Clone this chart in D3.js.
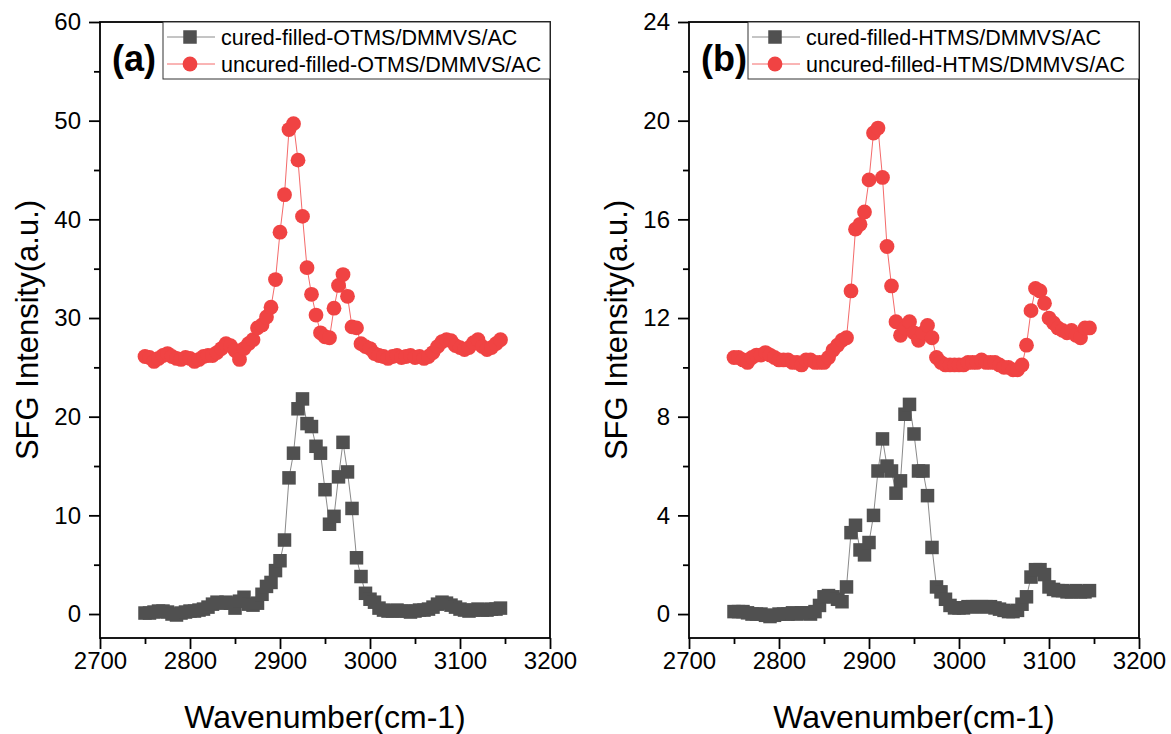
<!DOCTYPE html>
<html>
<head>
<meta charset="utf-8">
<script src="https://cdn.jsdelivr.net/npm/d3@7"></script>
<style>
  body { margin: 0; background: #fff; }
  svg { display: block; }
</style>
</head>
<body>
<svg id="chart" width="1171" height="734"></svg>
<script>
(function () {
'use strict';

// wavenumbers shared by every series (cm-1)
var wavenumbers = [
    2750, 2755, 2760, 2765, 2770, 2775, 2780, 2785, 2790, 2795,
    2800, 2805, 2810, 2815, 2820, 2825, 2830, 2835, 2840, 2845,
    2850, 2855, 2860, 2865, 2870, 2875, 2880, 2885, 2890, 2895,
    2900, 2905, 2910, 2915, 2920, 2925, 2930, 2935, 2940, 2945,
    2950, 2955, 2960, 2965, 2970, 2975, 2980, 2985, 2990, 2995,
    3000, 3005, 3010, 3015, 3020, 3025, 3030, 3035, 3040, 3045,
    3050, 3055, 3060, 3065, 3070, 3075, 3080, 3085, 3090, 3095,
    3100, 3105, 3110, 3115, 3120, 3125, 3130, 3135, 3140, 3145
];

var curedOtms = [
    0.1, 0.1, 0.2, 0.3, 0.3, 0.2, 0.0, -0.1, 0.1, 0.2,
    0.3, 0.3, 0.4, 0.5, 0.7, 1.0, 1.2, 1.1, 1.2, 1.1,
    0.6, 1.3, 1.7, 1.0, 0.9, 1.1, 2.0, 2.8, 3.2, 4.4,
    5.4, 7.5, 13.8, 16.3, 20.8, 21.8, 19.3, 19.0, 17.0, 16.3,
    12.6, 9.1, 9.9, 13.9, 17.4, 14.4, 10.7, 5.7, 3.8, 2.1,
    1.5, 1.2, 0.6, 0.4, 0.3, 0.3, 0.4, 0.3, 0.3, 0.2,
    0.3, 0.4, 0.4, 0.5, 0.7, 1.0, 1.2, 1.1, 0.9, 0.7,
    0.5, 0.4, 0.3, 0.4, 0.5, 0.4, 0.4, 0.5, 0.5, 0.6
];

var uncuredOtms = [
    26.1, 26.0, 25.6, 25.9, 26.2, 26.4, 26.1, 25.9, 25.8, 26.0,
    25.9, 25.6, 25.8, 26.1, 26.2, 26.2, 26.5, 26.9, 27.4, 27.2,
    26.7, 25.8, 26.9, 27.4, 27.8, 29.0, 29.3, 30.1, 31.1, 33.9,
    38.7, 42.5, 49.1, 49.7, 46.0, 40.3, 35.1, 32.4, 30.3, 28.5,
    28.1, 28.0, 31.0, 33.3, 34.4, 32.2, 29.1, 29.0, 27.4, 27.1,
    26.9, 26.4, 26.2, 26.1, 25.9, 26.1, 26.2, 26.0, 26.1, 26.2,
    26.0, 26.1, 25.9, 26.1, 26.5, 27.1, 27.6, 27.8, 27.7, 27.2,
    27.0, 26.8, 27.0, 27.5, 27.8, 27.1, 26.8, 27.0, 27.4, 27.8
];

var curedHtms = [
    0.1, 0.1, 0.1, 0.05, 0.0, 0.0, 0.0, -0.05, -0.1, -0.05,
    0.0, 0.0, 0.0, 0.05, 0.0, 0.05, 0.05, 0.0, 0.1, 0.35,
    0.7, 0.75, 0.7, 0.6, 0.5, 1.1, 3.3, 3.6, 2.6, 2.4,
    2.9, 4.0, 5.8, 7.1, 6.0, 5.8, 4.9, 5.4, 8.1, 8.5,
    7.3, 5.8, 5.8, 4.8, 2.7, 1.1, 0.9, 0.6, 0.35, 0.25,
    0.25, 0.25, 0.3, 0.3, 0.3, 0.3, 0.3, 0.3, 0.25, 0.2,
    0.15, 0.1, 0.1, 0.15, 0.4, 0.7, 1.5, 1.8, 1.8, 1.6,
    1.1, 1.0, 0.95, 0.95, 0.9, 0.9, 0.95, 0.9, 0.9, 0.95
];

var uncuredHtms = [
    10.4, 10.4, 10.3, 10.2, 10.4, 10.5, 10.5, 10.6, 10.5, 10.4,
    10.3, 10.3, 10.3, 10.2, 10.2, 10.1, 10.3, 10.3, 10.2, 10.2,
    10.2, 10.4, 10.7, 10.9, 11.1, 11.2, 13.1, 15.6, 15.8, 16.3,
    17.6, 19.5, 19.7, 17.7, 14.9, 13.3, 11.85, 11.3, 11.6, 11.85,
    11.4, 11.1, 11.4, 11.7, 11.2, 10.4, 10.2, 10.1, 10.1, 10.1,
    10.1, 10.1, 10.2, 10.2, 10.2, 10.3, 10.2, 10.2, 10.2, 10.1,
    10.0, 10.0, 9.9, 9.9, 10.1, 10.9, 12.3, 13.2, 13.1, 12.6,
    12.0, 11.8, 11.6, 11.5, 11.4, 11.5, 11.3, 11.2, 11.6, 11.6
];

var xTicks = [2700, 2800, 2900, 3000, 3100, 3200];
var xMinorTicks = [2750, 2850, 2950, 3050, 3150];
var yTicksA = [0, 10, 20, 30, 40, 50, 60];
var yMinorA = [5, 15, 25, 35, 45, 55];
var yTicksB = [0, 4, 8, 12, 16, 20, 24];
var yMinorB = [2, 6, 10, 14, 18, 22];
var namesA = ['cured-filled-OTMS/DMMVS/AC', 'uncured-filled-OTMS/DMMVS/AC'];
var namesB = ['cured-filled-HTMS/DMMVS/AC', 'uncured-filled-HTMS/DMMVS/AC'];

var FONT = '"Liberation Sans", Arial, Helvetica, sans-serif';
var GRAY = '#505050';
var GRAY_LINE = '#8a8a8a';
var RED = '#f04343';
var RED_LINE = '#f46a6a';
var TOP = 22;
var BOTTOM = 638;
var SQUARE = 13.5;
var RADIUS = 7.4;

var panels = [
    { left: 100, right: 550, yDomain: [-2.43, 60], yTicks: yTicksA, yMinor: yMinorA,
      tag: '(a)', names: namesA, cured: curedOtms, uncured: uncuredOtms, legendX: 163 },
    { left: 689, right: 1139, yDomain: [-0.97, 24], yTicks: yTicksB, yMinor: yMinorB,
      tag: '(b)', names: namesB, cured: curedHtms, uncured: uncuredHtms, legendX: 748 }
];

var svg = d3.select('#chart');

svg.append('rect')
    .attr('width', 1171)
    .attr('height', 734)
    .attr('fill', '#fff');

var drawMarker = function(g, kind, cx, cy) {
    if (kind === 'square') {
        g.append('rect')
            .attr('x', cx - SQUARE / 2)
            .attr('y', cy - SQUARE / 2)
            .attr('width', SQUARE)
            .attr('height', SQUARE)
            .attr('fill', GRAY);
    } else {
        g.append('circle')
            .attr('cx', cx)
            .attr('cy', cy)
            .attr('r', RADIUS)
            .attr('fill', RED);
    }
};

var drawPanel = function(p) {
    var x = d3.scaleLinear().domain([2700, 3200]).range([p.left, p.right]);
    var y = d3.scaleLinear().domain(p.yDomain).range([BOTTOM, TOP]);
    var g = svg.append('g');

    // series: line first, then markers
    var series = [
        { values: p.cured, kind: 'square', line: GRAY_LINE },
        { values: p.uncured, kind: 'circle', line: RED_LINE }
    ];

    var line = d3.line()
        .x(function(d, i) { return x(wavenumbers[i]); })
        .y(function(d) { return y(d); });

    series.forEach(function(s) {
        g.append('path')
            .datum(s.values)
            .attr('d', line)
            .attr('fill', 'none')
            .attr('stroke', s.line)
            .attr('stroke-width', 1);

        var mg = g.append('g');
        s.values.forEach(function(v, i) {
            drawMarker(mg, s.kind, x(wavenumbers[i]), y(v));
        });
    });

    // frame
    g.append('rect')
        .attr('x', p.left)
        .attr('y', TOP)
        .attr('width', p.right - p.left)
        .attr('height', BOTTOM - TOP)
        .attr('fill', 'none')
        .attr('stroke', '#000')
        .attr('stroke-width', 1.8);

    // x axis
    var xAxis = g.append('g')
        .attr('transform', 'translate(0,' + BOTTOM + ')')
        .call(d3.axisBottom(x).tickValues(xTicks).tickSize(11).tickPadding(3).tickFormat(d3.format('d')));
    xAxis.append('g')
        .call(d3.axisBottom(x).tickValues(xMinorTicks).tickSize(6).tickFormat(''));

    // y axis
    var yAxis = g.append('g')
        .attr('transform', 'translate(' + p.left + ',0)')
        .call(d3.axisLeft(y).tickValues(p.yTicks).tickSize(11).tickPadding(8).tickFormat(d3.format('d')));
    yAxis.append('g')
        .call(d3.axisLeft(y).tickValues(p.yMinor).tickSize(6).tickFormat(''));

    g.selectAll('.domain').remove();
    g.selectAll('.tick line')
        .attr('stroke', '#000')
        .attr('stroke-width', 1.8);
    g.selectAll('.tick text')
        .style('font-family', FONT)
        .style('font-size', '24px')
        .attr('fill', '#000');

    // axis titles
    g.append('text')
        .attr('x', (p.left + p.right) / 2)
        .attr('y', 728)
        .attr('text-anchor', 'middle')
        .style('font-family', FONT)
        .style('font-size', '32px')
        .text('Wavenumber(cm-1)');

    g.append('text')
        .attr('transform', 'translate(' + (p.left - 62) + ',' + ((TOP + BOTTOM) / 2) + ') rotate(-90)')
        .attr('text-anchor', 'middle')
        .style('font-family', FONT)
        .style('font-size', '31px')
        .text('SFG Intensity(a.u.)');

    // panel tag
    g.append('text')
        .attr('x', p.left + 12)
        .attr('y', 71)
        .style('font-family', FONT)
        .style('font-size', '36px')
        .style('font-weight', 'bold')
        .text(p.tag);

    // legend
    var lg = g.append('g');
    lg.append('rect')
        .attr('x', p.legendX)
        .attr('y', TOP)
        .attr('width', p.right - p.legendX)
        .attr('height', 57)
        .attr('fill', '#fff')
        .attr('stroke', '#333')
        .attr('stroke-width', 1);

    var kinds = [['square', GRAY_LINE], ['circle', RED_LINE]];
    p.names.forEach(function(name, i) {
        var cy = TOP + 15 + i * 27;
        lg.append('line')
            .attr('x1', p.legendX + 4)
            .attr('x2', p.legendX + 52)
            .attr('y1', cy)
            .attr('y2', cy)
            .attr('stroke', kinds[i][1])
            .attr('stroke-width', 1);
        drawMarker(lg, kinds[i][0], p.legendX + 27, cy);
        lg.append('text')
            .attr('x', p.legendX + 58)
            .attr('y', cy + 8)
            .style('font-family', FONT)
            .style('font-size', '21.5px')
            .text(name);
    });
};

panels.forEach(drawPanel);
})();
</script>
</body>
</html>
